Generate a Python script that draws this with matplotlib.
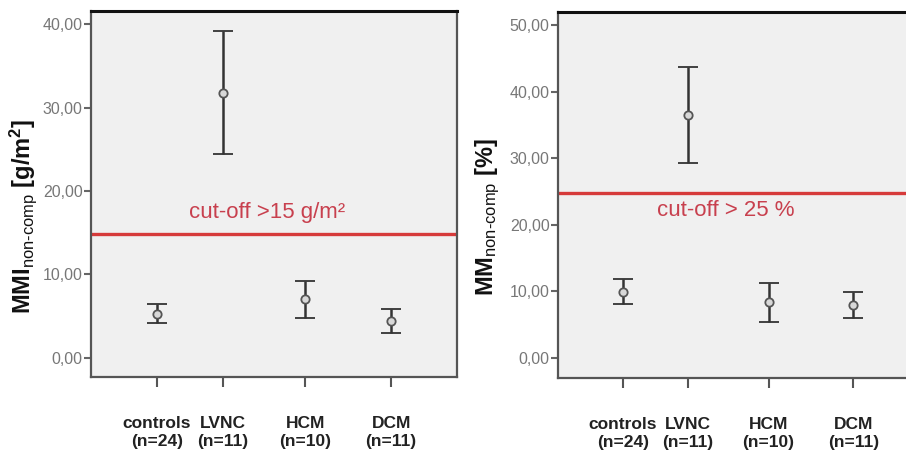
import numpy as np
import matplotlib
matplotlib.use("Agg")
import matplotlib.pyplot as plt

plt.rcParams['font.family'] = ['Liberation Sans', 'DejaVu Sans']
plt.rcParams['mathtext.fontset'] = 'custom'
plt.rcParams['mathtext.rm'] = 'Liberation Sans'
plt.rcParams['mathtext.bf'] = 'Liberation Sans:bold'
plt.rcParams['mathtext.it'] = 'Liberation Sans:italic'

groups = ['controls\n(n=24)', 'LVNC\n(n=11)', 'HCM\n(n=10)', 'DCM\n(n=11)']

# MMI non-comp [g/m2]: mean with 95% CI
mmi_mean = [5.3, 31.8, 7.1, 4.4]
mmi_low = [4.2, 24.4, 4.8, 3.0]
mmi_high = [6.4, 39.2, 9.2, 5.8]
mmi_cutoff = 14.8

# MM non-comp [%]
mm_mean = [9.9, 36.5, 8.4, 8.0]
mm_low = [8.1, 29.3, 5.4, 6.0]
mm_high = [11.9, 43.7, 11.3, 9.9]
mm_cutoff = 24.8

# layout (not data): uneven category spacing of the original
xpos = [0.18, 0.36, 0.585, 0.82]

HY = '\u2010'  # real hyphen inside mathtext


def panel(ax, mean, low, high, cutoff, yticks, ylim, ylabel, cut_text, cut_xy, lab_x):
    mean = np.array(mean)
    err = np.vstack([mean - np.array(low), np.array(high) - mean])
    ax.set_facecolor('#f0f0f0')
    ax.errorbar(xpos, mean, yerr=err, fmt='o', color='#333333', ecolor='#333333',
                elinewidth=1.8, capsize=7, capthick=1.8, ms=6,
                mfc='#d8d8d8', mec='#555555', mew=1.3, zorder=3)
    ax.axhline(cutoff, color='#d63a3a', lw=2.4, zorder=2)
    ax.text(cut_xy[0], cut_xy[1], cut_text, color='#c8404e', fontsize=16,
            ha='center', va='center')
    ax.set_xlim(0, 1)
    ax.set_ylim(*ylim)
    ax.set_yticks(yticks)
    ax.set_yticklabels([f'{v:.2f}'.replace('.', ',') for v in yticks])
    ax.set_xticks(xpos)
    ax.set_xticklabels(groups, fontweight='bold', fontsize=12.5, color='#222222',
                       linespacing=1.3)
    ax.tick_params(axis='x', length=7, width=1.5, color='#555555', pad=21)
    ax.tick_params(axis='y', length=5, width=1.5, color='#666666', labelsize=11.5,
                   labelcolor='#777777', pad=1)
    for s in ['left', 'bottom', 'right']:
        ax.spines[s].set_color('#555555')
        ax.spines[s].set_linewidth(1.6)
    ax.spines['top'].set_color('#111111')
    ax.spines['top'].set_linewidth(2.2)
    ax.set_ylabel(ylabel, fontsize=17, color='#111111', va='center')
    ax.yaxis.set_label_coords(lab_x, 0.44)


fig = plt.figure(figsize=(9.06, 4.54), dpi=100)
ax1 = fig.add_axes([91 / 906, 1 - 377 / 454, 366 / 906, 366 / 454])
ax2 = fig.add_axes([558 / 906, 1 - 378 / 454, 360 / 906, 366 / 454])

panel(ax1, mmi_mean, mmi_low, mmi_high, mmi_cutoff,
      [0, 10, 20, 30, 40], (-2.3, 41.6),
      r'$\mathbf{MMI}_{\mathrm{non' + HY + r'comp}}\ \mathbf{[g/m^2]}$',
      'cut-off >15 g/m²', (0.48, 17.4), -0.185)
panel(ax2, mm_mean, mm_low, mm_high, mm_cutoff,
      [0, 10, 20, 30, 40, 50], (-3.0, 52.0),
      r'$\mathbf{MM}_{\mathrm{non' + HY + r'comp}}\ \mathbf{[\%]}$',
      'cut-off > 25 %', (0.465, 22.2), -0.195)
ax2.spines['right'].set_visible(False)

fig.savefig('out.png', dpi=100)
